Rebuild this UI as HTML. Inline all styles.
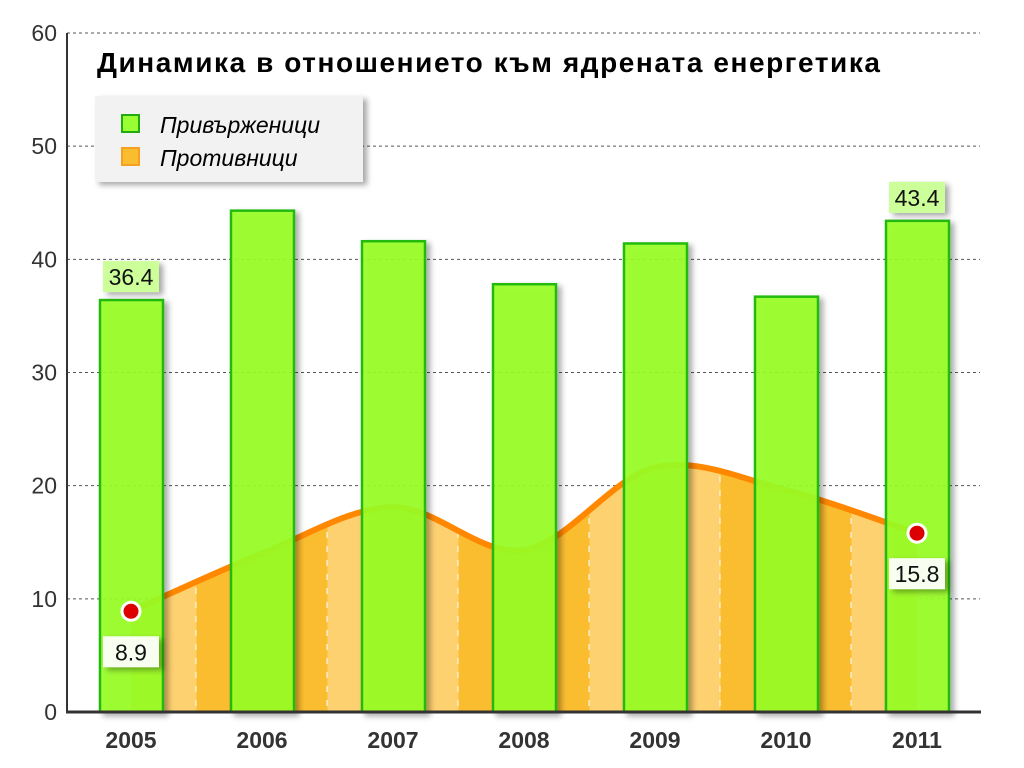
<!DOCTYPE html>
<html><head><meta charset="utf-8"><style>body{margin:0;background:#fff}svg{display:block}text{font-family:"Liberation Sans",sans-serif}</style></head>
<body>
<svg id="c" width="1024" height="768" viewBox="0 0 1024 768">
<defs>
<filter id="sh" x="-20%" y="-20%" width="150%" height="150%"><feDropShadow dx="4" dy="3" stdDeviation="3" flood-color="#000" flood-opacity="0.35"/></filter>
</defs>
<g id="grid"></g>
<g id="area"></g>
<g id="bars"></g>
<g id="labels"></g>
<line x1="67" y1="33" x2="67" y2="712" stroke="#333" stroke-width="2"/>
<line x1="66" y1="712" x2="981" y2="712" stroke="#333" stroke-width="3"/>
<text x="97" y="72" font-size="28" font-weight="bold" fill="#000" textLength="783">Динамика в отношението към ядрената енергетика</text>
<g filter="url(#sh)">
<rect x="95" y="96" width="268" height="86" fill="#f2f2f2"/>
</g>
<g>
<rect x="122" y="115" width="17" height="17" fill="#99ff33" stroke="#22aa11" stroke-width="2"/>
<text x="160" y="133" font-size="23" font-style="italic">Привърженици</text></g>
<g>
<rect x="122" y="148" width="17" height="17" fill="#fbbd30" stroke="#f5a020" stroke-width="2"/>
<text x="160" y="166" font-size="23" font-style="italic">Противници</text></g>
</svg>
<script>
const years=["2005","2006","2007","2008","2009","2010","2011"];
const supporters=[36.4,44.3,41.6,37.8,41.4,36.7,43.4];
const opponents=[8.9,14.0,18.1,14.3,21.6,19.6,15.8];
const yTicks=[0,10,20,30,40,50,60];
const NS="http://www.w3.org/2000/svg";
const y=v=>712-v*11.317;
const x=i=>131+i*131;
function mk(t,a,p){const e=document.createElementNS(NS,t);for(const k in a)e.setAttribute(k,a[k]);p.appendChild(e);return e;}
const G=document.getElementById('grid');
yTicks.forEach(t=>{
 if(t>0){const l=mk('line',{x1:67,x2:980,y1:y(t),y2:y(t),stroke:'#555','stroke-dasharray':'3,3','stroke-width':1},G);
 
 }
 const tx=mk('text',{x:57,y:y(t)+8,'text-anchor':'end','font-size':23,fill:'#333'},G);tx.textContent=t;
 
 
});
function curve(){const P=opponents.map((v,i)=>[x(i),y(v)]);let d='M'+P[0][0]+','+P[0][1];
 for(let i=0;i<P.length-1;i++){const p0=P[Math.max(0,i-1)],p1=P[i],p2=P[i+1],p3=P[Math.min(P.length-1,i+2)];
 const c1=[p1[0]+(p2[0]-p0[0])/6,p1[1]+(p2[1]-p0[1])/6],c2=[p2[0]-(p3[0]-p1[0])/6,p2[1]-(p3[1]-p1[1])/6];
 d+=` C${c1[0]},${c1[1]} ${c2[0]},${c2[1]} ${p2[0]},${p2[1]}`;}
 return d;}
const A=document.getElementById('area');
const cid='areaClip';
const cp=mk('clipPath',{id:cid},document.querySelector('defs'));
mk('path',{d:curve()+` L${x(years.length-1)},712 L${x(0)},712 Z`},cp);
const ag=mk('g',{'clip-path':'url(#'+cid+')'},A);


for(let i=0;i<years.length;i++){
 const a=i===0?x(0):x(i)-65.5, b=i===years.length-1?x(i):x(i)+65.5;
 mk('rect',{x:a,y:0,width:b-a,height:712,fill:i%2?'#fbbd30':'#fdd070'},ag);
 if(i<years.length-1){mk('line',{x1:x(i)+65.5,x2:x(i)+65.5,y1:0,y2:712,stroke:'#fff','stroke-width':2,'stroke-dasharray':'6,8'},ag);}
}
const ln=mk('path',{d:curve(),fill:'none',stroke:'#ff8800','stroke-width':6},A);


const B=document.getElementById('bars');
years.forEach((yr,i)=>{
 const r=mk('rect',{x:x(i)-31,y:y(supporters[i]),width:63,height:712-y(supporters[i]),fill:'#99ff22','fill-opacity':0.9,stroke:'#22bb11','stroke-width':2.5,filter:'url(#sh)'},B);
 
 
 const t=mk('text',{x:x(i),y:748,'text-anchor':'middle','font-size':23,'font-weight':'bold',fill:'#333'},B);t.textContent=yr;
 
 
});
const L=document.getElementById('labels');
function lab(i,v,yy,bg,nm){const g=mk('g',{},L);
 
 
 mk('rect',{x:x(i)-28,y:yy,width:56,height:31,fill:bg,filter:'url(#sh)'},g);
 const t=mk('text',{x:x(i),y:yy+24,'text-anchor':'middle','font-size':23,fill:'#111'},g);t.textContent=v;}
[0,6].forEach(i=>lab(i,supporters[i],y(supporters[i])-39,'#ccff99','supporters-label-'+years[i]));
[0,6].forEach(i=>{const c=mk('circle',{cx:x(i),cy:y(opponents[i]),r:9,fill:'#dd0000',stroke:'#fff','stroke-width':3},L);
 
 
 lab(i,opponents[i],y(opponents[i])+25,'#f8fff0','opponents-label-'+years[i]);});
</script>
</body></html>
